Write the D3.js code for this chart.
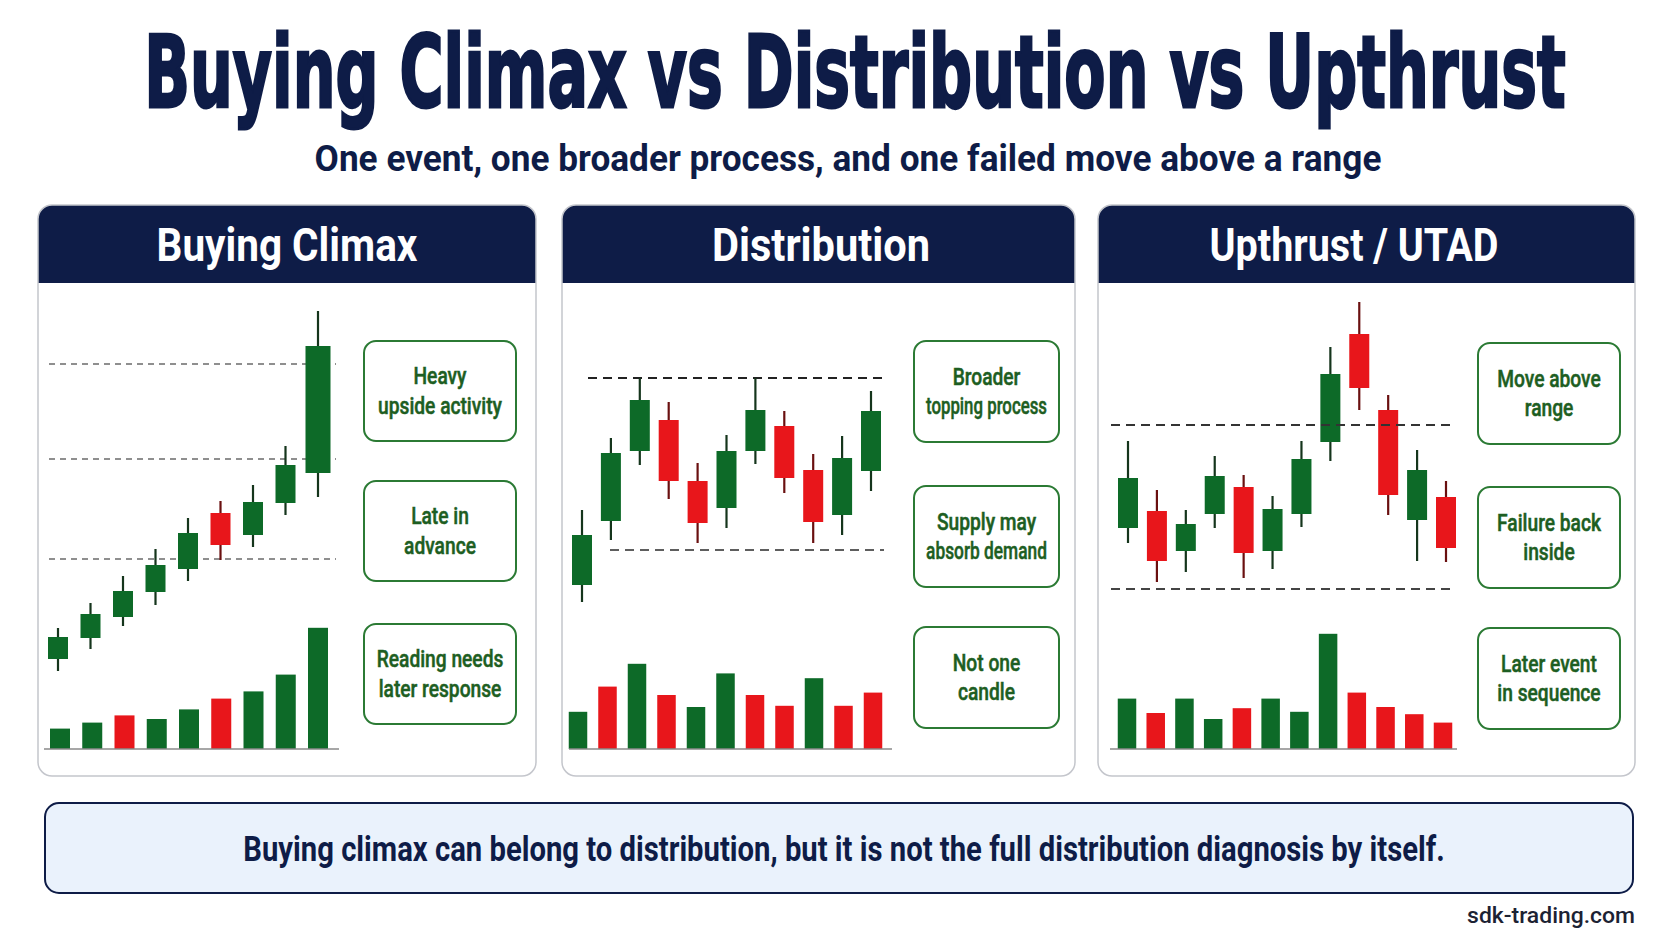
<!DOCTYPE html>
<html>
<head>
<meta charset="utf-8">
<script src="https://cdn.jsdelivr.net/npm/d3@7"></script>
<style>
  body { margin: 0; background: #ffffff; }
  svg { display: block; }
</style>
</head>
<body>
<svg id="chart"></svg>
<script>
// ---------- data ----------
const titleText = "Buying Climax vs Distribution vs Upthrust";
const subtitleText = "One event, one broader process, and one failed move above a range";
const panelTitles = ["Buying Climax", "Distribution", "Upthrust / UTAD"];
const noteText = "Buying climax can belong to distribution, but it is not the full distribution diagnosis by itself.";
const sourceText = "sdk-trading.com";

// candles: [open, high, low, close]
const climaxCandles = [
  [30.5, 46, 24.5, 41.5], [41, 58.5, 35.5, 53], [51.5, 72, 47, 64.5],
  [64, 85.5, 57.5, 77.5], [75.5, 101, 69.5, 93.5], [103.5, 109.5, 80, 87.5],
  [92.5, 117.5, 86.5, 109], [108.5, 137, 102.5, 127.5], [123.5, 204.5, 111.5, 187]
];
const distCandles = [
  [67.5, 105, 59, 92.5], [99.5, 141, 90, 133.5], [134.5, 171, 127.5, 160],
  [150, 159, 110.5, 119.5], [119.5, 128.5, 88.5, 98.5], [106, 142.5, 96, 134.5],
  [134.5, 171, 128, 155], [147, 154.5, 113.5, 121], [125, 133, 88.5, 99],
  [102.5, 142, 92.5, 131], [124.5, 164.5, 114.5, 154.5]
];
const upthrustCandles = [
  [96, 139.5, 88.5, 121], [104.5, 115, 69, 79.5], [84.5, 105, 74, 98],
  [103, 132, 96, 122], [116.5, 122.5, 71, 83.5], [84.5, 112, 75.5, 105.5],
  [103, 139.5, 96.5, 130.5], [139, 186.5, 129.5, 173], [193, 209, 155, 166],
  [155, 162.5, 102.5, 112.5], [100, 135, 79.5, 125], [111.5, 119.5, 79, 86]
];

// volume bars and their colour side
const climaxVolume = [17, 22, 28, 25, 33, 42, 48, 62, 101];
const climaxVolumeSide = ["up", "up", "down", "up", "up", "down", "up", "up", "up"];
const distVolume = [31, 52, 71, 45, 35, 63, 45, 36, 59, 36, 47];
const distVolumeSide = ["up", "down", "up", "down", "up", "up", "down", "down", "up", "down", "down"];
const upthrustVolume = [42, 30, 42, 25, 34, 42, 31, 96, 47, 35, 29, 22];
const upthrustVolumeSide = ["up", "down", "up", "up", "down", "up", "up", "up", "down", "down", "down", "down"];

// dashed reference levels (price units)
const climaxLevels = [178, 130.5, 80.5];
const distLevels = [171, 85];
const upthrustLevels = [147.5, 65.5];

// note boxes, one line per entry
const climaxNotes = [["Heavy", "upside activity"], ["Late in", "advance"], ["Reading needs", "later response"]];
const distNotes = [["Broader", "topping process"], ["Supply may", "absorb demand"], ["Not one", "candle"]];
const upthrustNotes = [["Move above", "range"], ["Failure back", "inside"], ["Later event", "in sequence"]];

// ---------- setup ----------
const W = 1672, H = 941;
const navy = "#0e1c47";
const upFill = "#0d6a28", downFill = "#e8161b";
const upWick = "#15351c", downWick = "#6a1010";
const noteGreen = "#1d5e22", noteStroke = "#2b7a34";

const svg = d3.select("#chart").attr("width", W).attr("height", H);
svg.append("rect").attr("width", W).attr("height", H).attr("fill", "#ffffff");

// condense a text element horizontally to a given width (anchor point kept)
function fitWidth(sel, w) {
  sel.each(function() {
    const el = d3.select(this);
    const nat = this.getComputedTextLength();
    const x = +el.attr("x"), y = +el.attr("y");
    el.attr("x", 0).attr("y", 0)
      .attr("transform", `translate(${x},${y}) scale(${w / nat},1)`);
  });
}
function squeeze(sel, k, maxW) {
  sel.each(function() {
    fitWidth(d3.select(this), Math.min(this.getComputedTextLength() * k, maxW));
  });
}

// title + subtitle
svg.append("text")
  .attr("x", 855).attr("y", 107)
  .attr("text-anchor", "middle")
  .attr("font-family", "DejaVu Sans, sans-serif")
  .attr("font-weight", 700).attr("font-size", 100)
  .attr("fill", navy).attr("stroke", navy).attr("stroke-width", 3)
  .text(titleText)
  .call(fitWidth, 1422);

svg.append("text")
  .attr("x", 848).attr("y", 171)
  .attr("text-anchor", "middle")
  .attr("font-family", "Roboto, sans-serif")
  .attr("font-weight", 700).attr("font-size", 37)
  .attr("fill", navy)
  .text(subtitleText)
  .call(fitWidth, 1067);

// shared vertical scales
const yPrice = d3.scaleLinear().domain([0, 210]).range([720, 300]);
const yVol = d3.scaleLinear().domain([0, 100]).range([749, 629]);
const panelTop = 205, headBottom = 283, panelBottom = 776;

const panels = [
  {
    title: panelTitles[0], candles: climaxCandles, volume: climaxVolume, side: climaxVolumeSide,
    levels: climaxLevels, notes: climaxNotes,
    x0: 38, x1: 536, titleCx: 287, titleW: 261,
    cx: [58, 318], vx: [60, 318], bodyW: 20, barW: 20, base: [44, 339],
    levX: [[49, 336], [49, 336], [49, 336]], levColor: ["#6b6b6b", "#6b6b6b", "#6b6b6b"],
    levDash: "6,5", levW: 1.5, levOnTop: false,
    boxX: 364, boxW: 152, boxY: [341, 481, 624], boxH: 100
  },
  {
    title: panelTitles[1], candles: distCandles, volume: distVolume, side: distVolumeSide,
    levels: distLevels, notes: distNotes,
    x0: 562, x1: 1075, titleCx: 821, titleW: 218,
    cx: [582, 871], vx: [578, 873], bodyW: 20, barW: 18.5, base: [569, 892],
    levX: [[588, 884], [610, 884]], levColor: ["#222222", "#5e5e5e"],
    levDash: "9,6", levW: 1.8, levOnTop: false,
    boxX: 914, boxW: 145, boxY: [341, 486, 627], boxH: 101
  },
  {
    title: panelTitles[2], candles: upthrustCandles, volume: upthrustVolume, side: upthrustVolumeSide,
    levels: upthrustLevels, notes: upthrustNotes,
    x0: 1098, x1: 1635, titleCx: 1354, titleW: 289,
    cx: [1128, 1446], vx: [1127, 1443], bodyW: 20, barW: 18.5, base: [1110, 1457],
    levX: [[1111, 1452], [1111, 1452]], levColor: ["#333333", "#444444"],
    levDash: "9,6", levW: 1.8, levOnTop: true,
    boxX: 1478, boxW: 142, boxY: [343, 487, 628], boxH: 101
  }
];

const defs = svg.append("defs");

panels.forEach((p, pi) => {
  const g = svg.append("g").attr("class", "panel");
  const pw = p.x1 - p.x0, ph = panelBottom - panelTop;

  // card with navy header
  defs.append("clipPath").attr("id", "clip" + pi)
    .append("rect").attr("x", p.x0).attr("y", panelTop)
    .attr("width", pw).attr("height", ph).attr("rx", 14);

  g.append("rect")
    .attr("x", p.x0).attr("y", panelTop).attr("width", pw).attr("height", ph)
    .attr("rx", 14).attr("fill", "#ffffff");

  g.append("rect")
    .attr("clip-path", `url(#clip${pi})`)
    .attr("x", p.x0).attr("y", panelTop).attr("width", pw).attr("height", headBottom - panelTop)
    .attr("fill", navy);

  g.append("rect")
    .attr("x", p.x0).attr("y", panelTop).attr("width", pw).attr("height", ph)
    .attr("rx", 14).attr("fill", "none").attr("stroke", "#c4c6cc").attr("stroke-width", 1.5);

  g.append("text")
    .attr("x", p.titleCx).attr("y", 261)
    .attr("text-anchor", "middle")
    .attr("font-family", "Roboto, sans-serif")
    .attr("font-weight", 700).attr("font-size", 46)
    .attr("fill", "#ffffff")
    .text(p.title)
    .call(fitWidth, p.titleW);

  // x scales
  const x = d3.scalePoint().domain(d3.range(p.candles.length)).range(p.cx);
  const xv = d3.scalePoint().domain(d3.range(p.volume.length)).range(p.vx);

  const chart = g.append("g");

  function drawLevels() {
    chart.append("g").selectAll("line")
      .data(p.levels)
      .join("line")
      .attr("x1", (d, i) => p.levX[i][0]).attr("x2", (d, i) => p.levX[i][1])
      .attr("y1", d => yPrice(d)).attr("y2", d => yPrice(d))
      .attr("stroke", (d, i) => p.levColor[i])
      .attr("stroke-width", p.levW)
      .attr("stroke-dasharray", p.levDash);
  }

  if (!p.levOnTop) drawLevels();

  const candle = chart.append("g").selectAll("g")
    .data(p.candles)
    .join("g");

  candle.append("line")
    .attr("x1", (d, i) => x(i)).attr("x2", (d, i) => x(i))
    .attr("y1", d => yPrice(d[1])).attr("y2", d => yPrice(d[2]))
    .attr("stroke", d => d[3] >= d[0] ? upWick : downWick)
    .attr("stroke-width", 2.2);

  // the climax bar (last candle of the first panel) is drawn a little wider
  function bw(i) {
    return (pi === 0 && i === p.candles.length - 1) ? p.bodyW + 5 : p.bodyW;
  }

  candle.append("rect")
    .attr("x", (d, i) => x(i) - bw(i) / 2)
    .attr("width", (d, i) => bw(i))
    .attr("y", d => yPrice(Math.max(d[0], d[3])))
    .attr("height", d => Math.abs(yPrice(d[0]) - yPrice(d[3])))
    .attr("fill", d => d[3] >= d[0] ? upFill : downFill);

  if (p.levOnTop) drawLevels();

  // volume
  chart.append("g").selectAll("rect")
    .data(p.volume)
    .join("rect")
    .attr("x", (d, i) => xv(i) - p.barW / 2)
    .attr("width", p.barW)
    .attr("y", d => yVol(d))
    .attr("height", d => yVol(0) - yVol(d))
    .attr("fill", (d, i) => p.side[i] === "up" ? upFill : downFill);

  chart.append("line")
    .attr("x1", p.base[0]).attr("x2", p.base[1])
    .attr("y1", yVol(0)).attr("y2", yVol(0))
    .attr("stroke", "#8a8a8a").attr("stroke-width", 1.5);

  // note boxes
  const box = g.append("g").selectAll("g")
    .data(p.notes)
    .join("g")
    .attr("transform", (d, i) => `translate(${p.boxX},${p.boxY[i]})`);

  box.append("rect")
    .attr("width", p.boxW).attr("height", p.boxH)
    .attr("rx", 12)
    .attr("fill", "#ffffff")
    .attr("stroke", noteStroke).attr("stroke-width", 2);

  box.selectAll("text")
    .data(d => d)
    .join("text")
    .attr("x", p.boxW / 2)
    .attr("y", (d, li) => p.boxH / 2 - 7 + li * 29.5)
    .attr("text-anchor", "middle")
    .attr("font-family", "Roboto, sans-serif")
    .attr("font-weight", 500).attr("font-size", 24)
    .attr("fill", noteGreen)
    .attr("stroke", noteGreen).attr("stroke-width", 0.5)
    .text(d => d)
    .call(squeeze, 0.8, p.boxW - 24);
});

// bottom note
svg.append("rect")
  .attr("x", 45).attr("y", 803).attr("width", 1588).attr("height", 90)
  .attr("rx", 14)
  .attr("fill", "#eaf2fc").attr("stroke", navy).attr("stroke-width", 2);

svg.append("text")
  .attr("x", 844).attr("y", 861)
  .attr("text-anchor", "middle")
  .attr("font-family", "Roboto, sans-serif")
  .attr("font-weight", 700).attr("font-size", 36)
  .attr("fill", navy)
  .text(noteText)
  .call(fitWidth, 1202);

svg.append("text")
  .attr("x", 1635).attr("y", 923)
  .attr("text-anchor", "end")
  .attr("font-family", "Roboto, sans-serif")
  .attr("font-weight", 500).attr("font-size", 22)
  .attr("fill", "#1c2233")
  .text(sourceText)
  .call(fitWidth, 168);
</script>
</body>
</html>
